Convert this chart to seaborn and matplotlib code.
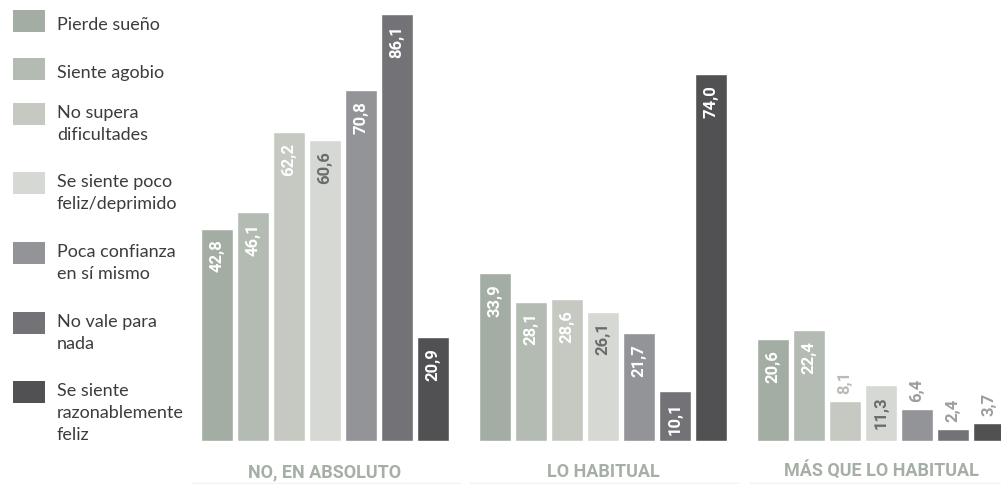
import matplotlib
matplotlib.use("Agg")
import matplotlib.pyplot as plt
from matplotlib.patches import Rectangle
import pandas as pd
import seaborn as sns

# Survey answers grouped by response level
groups = ["NO, EN ABSOLUTO", "LO HABITUAL", "MÁS QUE LO HABITUAL"]
items = [
    "Pierde sueño",
    "Siente agobio",
    "No supera\ndificultades",
    "Se siente poco\nfeliz/deprimido",
    "Poca confianza\nen sí mismo",
    "No vale para\nnada",
    "Se siente\nrazonablemente\nfeliz",
]
no_en_absoluto = [42.8, 46.1, 62.2, 60.6, 70.8, 86.1, 20.9]
lo_habitual = [33.9, 28.1, 28.6, 26.1, 21.7, 10.1, 74.0]
mas_que_lo_habitual = [20.6, 22.4, 8.1, 11.3, 6.4, 2.4, 3.7]

colors = ["#a3ada3", "#b3bbb3", "#c6c9c2", "#d6d8d3", "#939498", "#737377", "#515153"]
label_colors = ["white", "white", "white", "#6b6b6e", "white", "white", "white"]
above_colors = ["#a3ada3", "#b3bbb3", "#b9bcb5", "#c4c6c1", "#9c9da0", "#9c9da0", "#9c9da0"]

rows = []
for g, vals in zip(groups, [no_en_absoluto, lo_habitual, mas_que_lo_habitual]):
    for it, v in zip(items, vals):
        rows.append({"grupo": g, "item": it, "valor": v})
df = pd.DataFrame(rows)

W, H = 1001, 485
sns.set_theme(style="white")
plt.rcParams["font.family"] = ["Lato", "DejaVu Sans"]
BOLD_FONT = ["Roboto", "Liberation Sans"]

fig = plt.figure(figsize=(W / 100, H / 100), dpi=100)
fig.patch.set_facecolor("white")

base_px = 442          # baseline, pixels from the top
px_per_unit = 4.96     # vertical scale
group_step = 278       # pixels between group centres
first_center = 325     # centre of first group in pixels

ax = fig.add_axes([0, (H - base_px) / H, 1, base_px / H])
sns.barplot(
    data=df, x="grupo", y="valor", hue="item",
    order=groups, hue_order=items, palette=colors,
    width=7 * 36 / group_step, gap=4 / 36, dodge=True,
    legend=False, ax=ax, errorbar=None, saturation=1,
)
ax.set_xlim(-first_center / group_step, (W - first_center) / group_step)
ax.set_ylim(0, base_px / px_per_unit)
ax.axis("off")

# Value labels: inside the bar near the top, or above small bars
for i, cont in enumerate(ax.containers):
    for bar in cont:
        v = bar.get_height()
        xc = bar.get_x() + bar.get_width() / 2
        txt = f"{v:.1f}".replace(".", ",")
        if v >= 9:
            ax.annotate(txt, (xc, v), xytext=(0, -10), textcoords="offset pixels",
                        rotation=90, ha="center", va="top", fontsize=12,
                        fontweight="bold", family=BOLD_FONT, color=label_colors[i])
        else:
            ax.annotate(txt, (xc, v), xytext=(0, 8), textcoords="offset pixels",
                        rotation=90, ha="center", va="bottom", fontsize=12,
                        fontweight="bold", family=BOLD_FONT, color=above_colors[i])


def fx(px):
    return px / W


def fy(py):
    return 1 - py / H


# Group titles under the bars, with a faint rule beneath
for k, g in enumerate(groups):
    cx = first_center + k * group_step
    fig.text(fx(cx), fy(477), g, ha="center", va="baseline", fontsize=13,
             fontweight="bold", family=BOLD_FONT, color="#a5afa5")
rules = [(192, 460), (470, 738), (750, 1001)]
for x0, x1 in rules:
    fig.add_artist(plt.Line2D([fx(x0), fx(x1)], [fy(483.5), fy(483.5)],
                              color="#f2f2f2", lw=1))

# Legend drawn as swatches with wrapped labels
sq_tops = [11, 59, 104, 173, 243, 313, 382]
for it, c, top in zip(items, colors, sq_tops):
    fig.add_artist(Rectangle((fx(13), fy(top + 22)), 32 / W, 22 / H,
                             transform=fig.transFigure, color=c, lw=0))
    lines = it.split("\n")
    b0 = top + 19 if len(lines) == 1 else top + 14
    for j, ln in enumerate(lines):
        fig.text(fx(57), fy(b0 + 22 * j), ln, ha="left", va="baseline",
                 fontsize=13, color="#3c3c3c")

fig.savefig("out.png", dpi=100, facecolor="white")
